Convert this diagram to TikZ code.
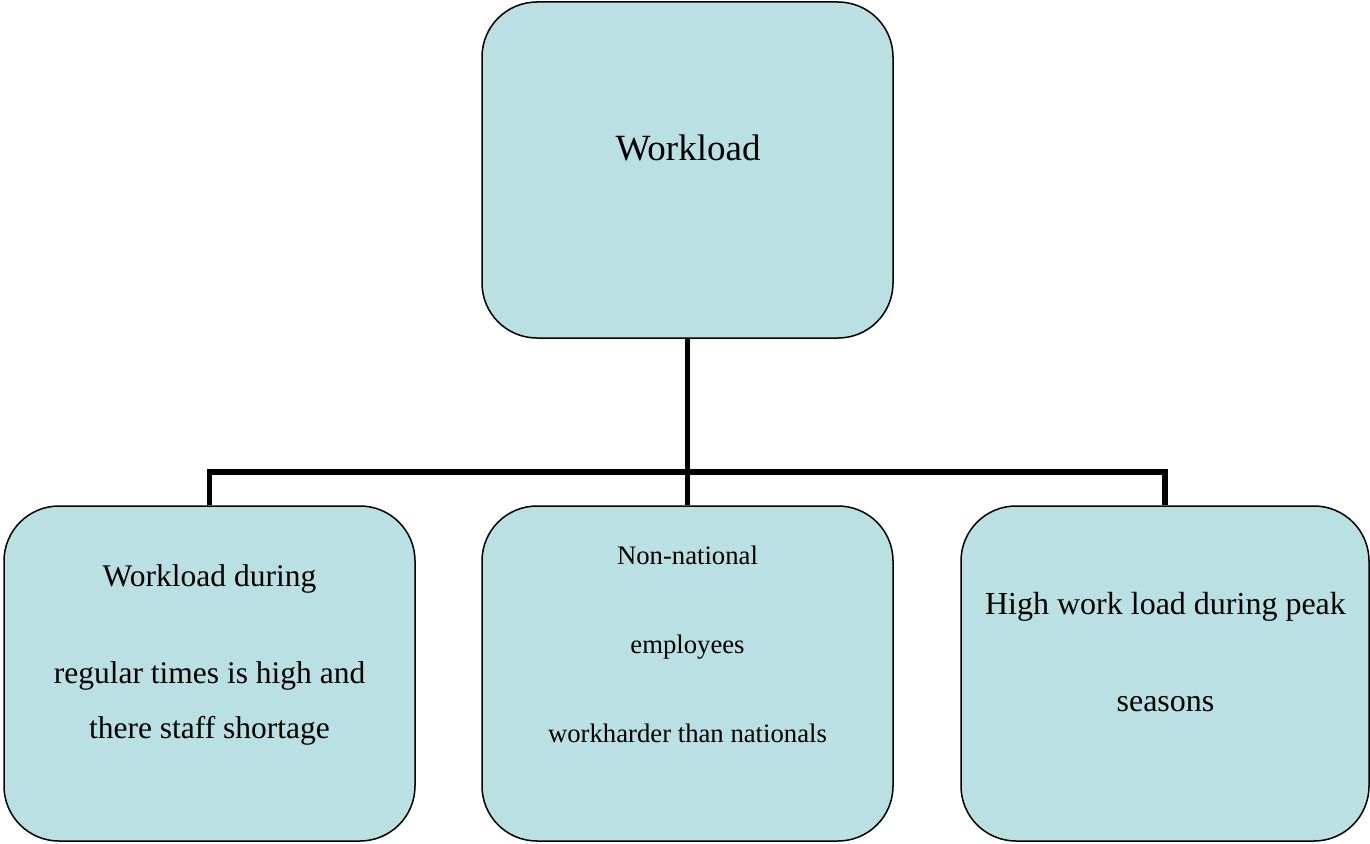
\documentclass[tikz,border=0pt]{standalone}
\usepackage{fontspec}
\setmainfont{Liberation Serif}
\definecolor{boxfill}{RGB}{186,224,227}
\begin{document}
\begin{tikzpicture}[x=1pt,y=-1pt,
  box/.style={draw=black, line width=1.5pt, fill=boxfill, rounded corners=55pt,
    minimum width=#1, minimum height=335pt, inner sep=0pt},
  conn/.style={draw=black, line width=5.5pt, line join=miter},
  lbl/.style={anchor=base, inner sep=0pt}]
\useasboundingbox (0,0) rectangle (1370,843);
% boxes
\node[box=411pt, minimum height=336pt] (top) at (687.5,170) {};
\node[box=411pt] (left) at (209.5,673.5) {};
\node[box=411pt] (mid) at (687.5,673.5) {};
\node[box=408pt] (right) at (1165,673.5) {};
% connectors
\coordinate (bus) at (687.5,472);
\draw[conn] (top.south) -- (mid.north);
\draw[conn] (left.north) |- (bus) -| (right.north);
% texts
\node[lbl, font=\fontsize{37}{40}\selectfont] (t0) at (688,160) {Workload};
\node[lbl, font=\fontsize{31.5}{35}\selectfont] (l1) at (209.5,586) {Workload during};
\node[lbl, font=\fontsize{31.5}{35}\selectfont] (l2) at (209.5,683) {regular times is high and};
\node[lbl, font=\fontsize{31.5}{35}\selectfont] (l3) at (209.5,738) {there staff shortage};
\node[lbl, font=\fontsize{26.7}{30}\selectfont] (m1) at (687.5,564) {Non-national};
\node[lbl, font=\fontsize{26.7}{30}\selectfont] (m2) at (687.5,653) {employees};
\node[lbl, font=\fontsize{26.7}{30}\selectfont] (m3) at (687.5,742) {workharder than nationals};
\node[lbl, font=\fontsize{32}{35}\selectfont] (r1) at (1165.5,614) {High work load during peak};
\node[lbl, font=\fontsize{32}{35}\selectfont] (r2) at (1165.5,711) {seasons};
\end{tikzpicture}
\end{document}
